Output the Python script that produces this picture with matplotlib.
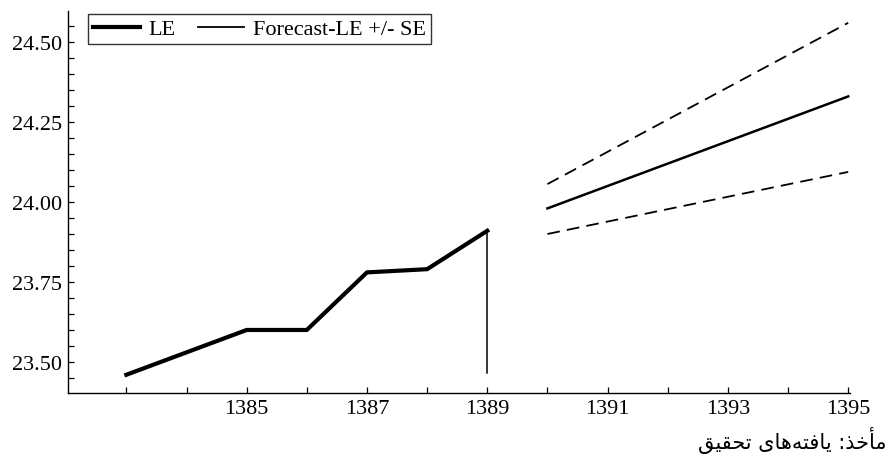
import matplotlib
matplotlib.use("Agg")
import matplotlib.pyplot as plt
from matplotlib.ticker import MultipleLocator, FormatStrFormatter
from matplotlib.lines import Line2D

# Data
years = [1383, 1384, 1385, 1386, 1387, 1388, 1389]
le = [23.46, 23.53, 23.60, 23.60, 23.78, 23.79, 23.91]
fc_years = [1390, 1395]
fc_mid = [23.98, 24.33]
fc_upper = [24.056, 24.56]
fc_lower = [23.90, 24.094]
split_year = 1389
split_low = 23.466
y_ticks = [23.50, 23.75, 24.00, 24.25, 24.50]
x_ticks = [1385, 1387, 1389, 1391, 1393, 1395]
legend_labels = ["LE", "Forecast-LE +/- SE"]
# source note, Persian (presentation forms, visual order)
source_note = "\ufed6\ufef4\ufed8\ufea4\ufe97 \ufeef\ufe8e\ufeeb\ufeea\ufe98\ufed3\ufe8e\ufef3 :\ufeac\ufea7\ufe84\ufee3"

plt.rcParams['font.family'] = ['Liberation Serif', 'DejaVu Serif']

fig = plt.figure(figsize=(8.85, 4.56), dpi=100)
ax = fig.add_axes([68/885, 1 - 394/456, 782/885, 382/456])

ax.plot(years, le, color='black', lw=3.0, solid_joinstyle='miter')
ax.plot([split_year, split_year], [le[-1], split_low], color='black', lw=1.1)
ax.plot(fc_years, fc_mid, color='black', lw=1.8)
ax.plot(fc_years, fc_upper, color='black', lw=1.3, dashes=(7, 4))
ax.plot(fc_years, fc_lower, color='black', lw=1.3, dashes=(7, 4))

ax.set_xlim(1382.03, 1395.03)
ax.set_ylim(23.403, 24.597)

ax.set_xticks(x_ticks)
ax.xaxis.set_minor_locator(MultipleLocator(1))
ax.set_yticks(y_ticks)
ax.yaxis.set_minor_locator(MultipleLocator(0.05))
ax.yaxis.set_major_formatter(FormatStrFormatter('%.2f'))

for s in ['top', 'right']:
    ax.spines[s].set_visible(False)
for s in ['left', 'bottom']:
    ax.spines[s].set_linewidth(1.0)

ax.tick_params(which='both', direction='in', length=4.5, width=0.9, colors='black')
ax.tick_params(axis='both', labelsize=16, pad=4)

handles = [Line2D([], [], color='black', lw=3.0),
           Line2D([], [], color='black', lw=1.3)]
leg = ax.legend(handles, legend_labels, ncol=2, loc='upper left',
                bbox_to_anchor=(20/782, 1 - 3/382), borderaxespad=0,
                fontsize=16, frameon=True, fancybox=False, handlelength=2.1,
                handletextpad=0.4, columnspacing=1.0, borderpad=0.22)
leg.get_frame().set_edgecolor('black')
leg.get_frame().set_linewidth(1.0)

fig.text(886/885, 1 - 441/456, source_note, ha='right', va='center',
         fontsize=15, family=['DejaVu Sans'])

fig.savefig("out.png", dpi=100)
